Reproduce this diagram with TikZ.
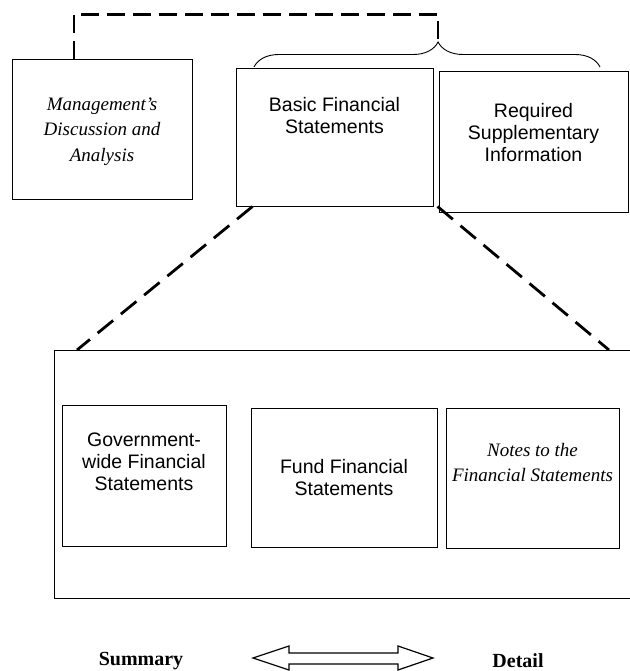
\documentclass[tikz,border=0pt]{standalone}
\usepackage{fontspec}
\setmainfont{Liberation Serif}
\setsansfont{Liberation Sans}
\usepackage{tikz}
\usetikzlibrary{decorations.pathreplacing}

\begin{document}
\begin{tikzpicture}[x=1pt, y=-1pt,
        box/.style={draw, line width=1pt, inner sep=0pt},
        sanstxt/.style={align=center, inner sep=0pt, anchor=base, font=\sffamily\fontsize{19.5}{22}\selectfont},
        scripttxt/.style={align=center, inner sep=0pt, anchor=base, font=\itshape\fontsize{19}{25.5}\selectfont},
        endtxt/.style={inner sep=0pt, anchor=base, font=\bfseries\fontsize{20}{24}\selectfont},
        bigdash/.style={line width=2.8pt, dash pattern=on 18pt off 8pt}]
        \useasboundingbox (0,0) rectangle (629,671);

        \draw (102,129.5) node [box, minimum width=180, minimum height=139] (mdna) {};
        \draw (334.5,137.5) node [box, minimum width=197, minimum height=137] (basic) {};
        \draw (533.5,142) node [box, minimum width=189, minimum height=140] (rsi) {};

        \draw ([yshift=-102pt]mdna.north) node [scripttxt] (mdnatxt) {Management's\\Discussion and\\Analysis};
        \draw ([yshift=-65pt]basic.north) node [sanstxt] (basictxt) {Basic Financial\\Statements};
        \draw ([yshift=-90pt]rsi.north) node [sanstxt] (rsitxt) {Required\\Supplementary\\Information};

        \draw[decorate, decoration={brace, amplitude=25pt, aspect=0.532}, line width=0.9pt] (254,67) -- (600,67);
        \coordinate (bracetip) at (438,42);
        \draw[bigdash] ([xshift=-28pt]mdna.north) -- ++(0,-45) -| (bracetip);

        \draw[line width=1pt] (631,350) -- (54,350) -- (54,598) -- (631,598);
        \coordinate (zoomleft) at (77,350);
        \coordinate (zoomright) at (609,350);
        \draw[bigdash, dash pattern=on 20pt off 10pt] ([xshift=17pt]basic.south west) -- (zoomleft);
        \draw[bigdash, dash pattern=on 20pt off 10pt] ([xshift=4pt]basic.south east) -- (zoomright);

        \draw (144,475.5) node [box, minimum width=164, minimum height=141] (gov) {};
        \draw (344,477.5) node [box, minimum width=186, minimum height=139] (fund) {};
        \draw (532.5,478) node [box, minimum width=173, minimum height=140] (notes) {};

        \draw ([yshift=-86pt]gov.north) node [sanstxt] (govtxt) {Government-\\wide Financial\\Statements};
        \draw ([yshift=-88pt]fund.north) node [sanstxt] (fundtxt) {Fund Financial\\Statements};
        \draw ([yshift=-74pt]notes.north) node [scripttxt] (notestxt) {Notes to the\\Financial Statements};

        \draw (141,665) node [endtxt] (summary) {Summary};
        \draw (518,667) node [endtxt] (detail) {Detail};
        \draw[line width=1.2pt] (253,658) -- (289,646) -- (289,653) -- (398,653) -- (398,646)
            -- (433,658) -- (398,670) -- (398,664) -- (289,664) -- (289,670) -- cycle;
    \end{tikzpicture}
\end{document}
